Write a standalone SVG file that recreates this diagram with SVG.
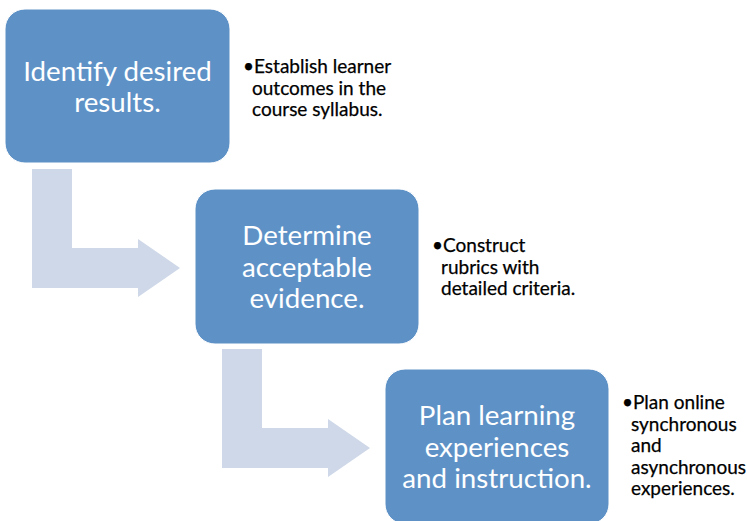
<svg xmlns="http://www.w3.org/2000/svg" width="747" height="521" viewBox="0 0 747 521">
<style>
.box{fill:#5e92c7;stroke:#ffffff;stroke-width:1}
.arrow{fill:#ced8e8}
.t{font-family:Lato,"Open Sans","Liberation Sans",sans-serif;font-size:27.7px;fill:#ffffff;text-anchor:middle}
.b{font-family:Lato,"Open Sans","Liberation Sans",sans-serif;font-size:19px;fill:#000000;stroke:#000000;stroke-width:0.25}
</style>
<rect width="747" height="521" fill="#ffffff"/>
<g id="connectors">
<path class="arrow" d="M32 169 H72 V248 H138 V239 L180 268 L138 297 V288 H32 Z"/>
<path class="arrow" d="M222 349 H262 V428 H328 V419 L370 448 L328 477 V468 H222 Z"/>
</g>
<g id="node1">
<rect class="box" x="5" y="9" width="225" height="154" rx="20"/>
<text class="t" x="117.5" y="81">Identify desired</text>
<text class="t" x="117.5" y="112">results.</text>
</g>
<g id="note1">
<text class="b" x="243" y="73">•Establish learner</text>
<text class="b" x="252" y="94.5">outcomes in the</text>
<text class="b" x="252" y="116">course syllabus.</text>
</g>
<g id="node2">
<rect class="box" x="195" y="189" width="224" height="155" rx="20"/>
<text class="t" x="307" y="245">Determine</text>
<text class="t" x="307" y="277">acceptable</text>
<text class="t" x="307" y="308">evidence.</text>
</g>
<g id="note2">
<text class="b" x="432" y="252">•Construct</text>
<text class="b" x="441" y="273.5">rubrics with</text>
<text class="b" x="441" y="295">detailed criteria.</text>
</g>
<g id="node3">
<rect class="box" x="385" y="369" width="224" height="155" rx="20"/>
<text class="t" x="497" y="425">Plan learning</text>
<text class="t" x="497" y="457">experiences</text>
<text class="t" x="497" y="488">and instruction.</text>
</g>
<g id="note3">
<text class="b" x="622" y="409">•Plan online</text>
<text class="b" x="631" y="430.5">synchronous</text>
<text class="b" x="631" y="452">and</text>
<text class="b" x="631" y="473.5">asynchronous</text>
<text class="b" x="631" y="495">experiences.</text>
</g>
</svg>
